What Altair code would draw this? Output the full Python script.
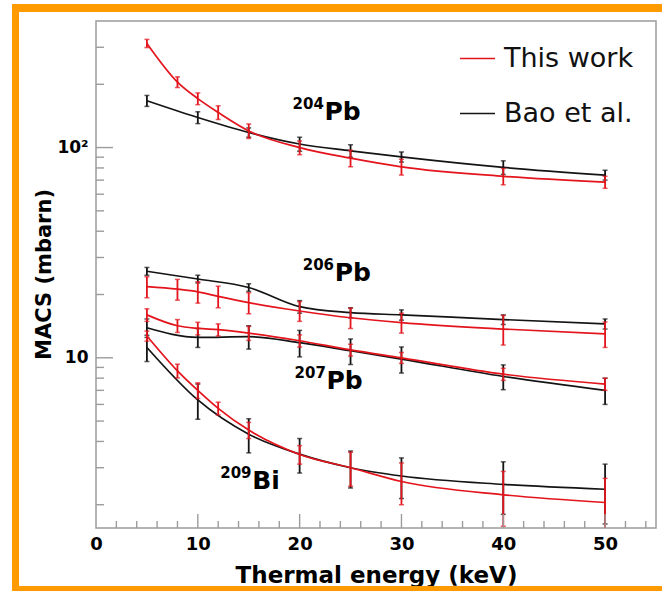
import altair as alt
import pandas as pd

# ---------------- data ----------------
ENERGY_THIS = [5, 8, 10, 12, 15, 20, 25, 30, 40, 50]
ENERGY_BAO = [5, 10, 15, 20, 25, 30, 40, 50]

PB204_THIS = [313, 205, 171, 147, 120, 100, 89, 81, 73, 68.5]
PB204_THIS_ERR = [14, 12, 11, 11, 9.5, 7.5, 8, 7, 6.5, 4.5]
PB204_BAO = [167, 139, 118, 104, 96.5, 90.3, 80.5, 74]
PB204_BAO_ERR = [10, 9, 6, 8, 6.5, 5, 6, 4]

PB206_THIS = [21.8, 21.2, 20.6, 19.6, 18.3, 16.7, 15.5, 14.7, 13.7, 13.0]
PB206_THIS_ERR = [2.5, 2.4, 2.4, 2.3, 2.1, 1.8, 1.7, 1.6, 2.2, 1.8]
PB206_BAO = [25.8, 23.7, 21.6, 17.5, 16.4, 16.0, 15.2, 14.5]
PB206_BAO_ERR = [1.1, 1.0, 0.9, 1.2, 0.9, 0.9, 0.8, 0.8]

PB207_THIS = [16.0, 14.2, 13.8, 13.6, 13.1, 12.05, 10.9, 10.0, 8.36, 7.5]
PB207_THIS_ERR = [1.1, 1.0, 0.95, 0.9, 1.0, 0.8, 0.7, 0.6, 0.55, 0.5]
PB207_BAO = [13.9, 12.5, 12.6, 11.8, 10.8, 9.86, 8.15, 7.0]
PB207_BAO_ERR = [1.4, 1.3, 1.6, 1.7, 1.5, 1.4, 1.1, 1.0]

BI209_THIS = [12.7, 8.67, 7.0, 5.75, 4.53, 3.47, 3.0, 2.58, 2.23, 2.05]
BI209_THIS_ERR = [0.7, 0.65, 0.6, 0.4, 0.4, 0.35, 0.55, 0.58, 0.65, 0.62]
BI209_BAO = [11.2, 6.3, 4.33, 3.48, 3.0, 2.74, 2.50, 2.37]
BI209_BAO_ERR = [1.6, 1.2, 0.8, 0.65, 0.6, 0.6, 0.7, 0.75]

SOURCES = ["This work", "Bao et al."]

# isotope labels (mass number superscript + element), anchored in data units
LABEL_MASS = ["204", "206", "207", "209"]
LABEL_ELEM = ["Pb", "Pb", "Pb", "Bi"]
LABEL_E = [19.3, 20.3, 19.5, 12.2]
LABEL_MACS = [153, 26.2, 8.03, 2.68]

# axis tick positions
X_LABELS = [0, 10, 20, 30, 40, 50]
X_MAJOR = [10, 20, 30, 40, 50]
X_MINOR = [2, 4, 6, 8, 12, 14, 16, 18, 22, 24, 26, 28, 32, 34, 36, 38,
           42, 44, 46, 48, 52, 54]
Y_LABELS = [10, 100]
Y_MINOR = [2, 3, 4, 5, 6, 7, 8, 9, 20, 30, 40, 50, 60, 70, 80, 90, 200, 300]

# ---------------- styles ----------------
FONT = "DejaVu Sans"
RED = "#e3141c"
BLACK = "#141414"
GRAY = "#9c9c9c"
ORANGE = "#ff9a00"

rows = []
def add(iso, src, xs, ys, es):
    for x, y, e in zip(xs, ys, es):
        rows.append({"isotope": iso, "source": src, "energy": x, "macs": y,
                     "lo": y - e, "hi": y + e})

add("204Pb", "This work", ENERGY_THIS, PB204_THIS, PB204_THIS_ERR)
add("206Pb", "This work", ENERGY_THIS, PB206_THIS, PB206_THIS_ERR)
add("207Pb", "This work", ENERGY_THIS, PB207_THIS, PB207_THIS_ERR)
add("209Bi", "This work", ENERGY_THIS, BI209_THIS, BI209_THIS_ERR)
add("204Pb", "Bao et al.", ENERGY_BAO, PB204_BAO, PB204_BAO_ERR)
add("206Pb", "Bao et al.", ENERGY_BAO, PB206_BAO, PB206_BAO_ERR)
add("207Pb", "Bao et al.", ENERGY_BAO, PB207_BAO, PB207_BAO_ERR)
add("209Bi", "Bao et al.", ENERGY_BAO, BI209_BAO, BI209_BAO_ERR)
df = pd.DataFrame(rows)
df_this = df[df.source == "This work"]
df_bao = df[df.source == "Bao et al."]

labels = pd.DataFrame({"mass": LABEL_MASS, "elem": LABEL_ELEM,
                       "e": LABEL_E, "m": LABEL_MACS})

xs = alt.Scale(domain=[0, 55], nice=False, zero=False)
ys = alt.Scale(type="log", domain=[1.55, 400], nice=False)
cs = alt.Scale(domain=SOURCES, range=[RED, BLACK])

x_axis = alt.Axis(values=X_LABELS, ticks=False, tickSize=0, domain=False, grid=False,
                  labelFont=FONT, labelFontWeight="bold", labelFontSize=18,
                  labelColor="black", labelPadding=7, labelFlush=False,
                  title="Thermal energy (keV)", titleFont=FONT,
                  titleFontWeight="bold", titleFontSize=23, titleColor="black",
                  titleX=280, titleY=54, titleBaseline="alphabetic",
                  titleAlign="center", titleAnchor="middle")
y_axis = alt.Axis(values=Y_LABELS, ticks=False, tickSize=0, domain=False, grid=False,
                  labelExpr="datum.value == 100 ? '10²' : (datum.value == 10 ? '10' : '')",
                  labelFont=FONT, labelFontWeight="bold", labelFontSize=17,
                  labelColor="black", labelPadding=8, labelFlush=False,
                  title="MACS (mbarn)", titleFont=FONT, titleFontWeight="bold",
                  titleFontSize=21, titleColor="black", titleAngle=270,
                  titleX=-52, titleY=253, titleAlign="center",
                  titleBaseline="middle", titleAnchor="middle")

legend = alt.Legend(title=None, orient="none", legendX=363, legendY=19,
                    symbolType="stroke", symbolSize=1225, symbolStrokeWidth=1.6,
                    labelFont=FONT, labelFontSize=27, labelColor="#111111",
                    labelOffset=8, rowPadding=23, direction="vertical")


def XE(field):
    return alt.X(field, scale=xs, axis=x_axis)


def YE(field):
    return alt.Y(field, scale=ys, axis=y_axis)


def series_layers(d, colour):
    lines = alt.Chart(d).mark_line(interpolate="monotone", strokeWidth=1.7,
                                   clip=True).encode(
        x=XE("energy:Q"), y=YE("macs:Q"),
        color=alt.Color("source:N", scale=cs, legend=legend),
        detail="isotope:N")
    bars = alt.Chart(d).mark_rule(strokeWidth=1.8, color=colour, clip=True).encode(
        x=XE("energy:Q"), y=YE("lo:Q"), y2="hi:Q")
    caps = alt.Chart(d).transform_fold(["lo", "hi"], as_=["end", "yv"]).mark_tick(
        orient="horizontal", size=5, thickness=1.5, color=colour, clip=True).encode(
        x=XE("energy:Q"), y=YE("yv:Q"))
    return [lines, bars, caps]


one = pd.DataFrame({"d": [0]})

def band(x1, x2, y1, y2):
    return alt.Chart(one).mark_rect(color=ORANGE).encode(
        x=alt.value(x1), x2=alt.value(x2), y=alt.value(y1), y2=alt.value(y2))

bands = [band(-84, -77, -17, 570), band(-84, 566, -17, -9), band(-84, 566, 565, 570)]

tick_y_minor = alt.Chart(pd.DataFrame({"v": Y_MINOR})).mark_rule(
    color=GRAY, strokeWidth=1.4).encode(
    y=YE("v:Q"), x=alt.value(0), x2=alt.value(8))
tick_y_major = alt.Chart(pd.DataFrame({"v": Y_LABELS})).mark_rule(
    color=GRAY, strokeWidth=1.4).encode(
    y=YE("v:Q"), x=alt.value(0), x2=alt.value(17))
tick_x_minor = alt.Chart(pd.DataFrame({"v": X_MINOR})).mark_rule(
    color=GRAY, strokeWidth=1.4).encode(
    x=XE("v:Q"), y=alt.value(507), y2=alt.value(500))
tick_x_major = alt.Chart(pd.DataFrame({"v": X_MAJOR})).mark_rule(
    color=GRAY, strokeWidth=1.4).encode(
    x=XE("v:Q"), y=alt.value(507), y2=alt.value(493))

mass_text = alt.Chart(labels).mark_text(
    align="left", baseline="alphabetic", font=FONT, fontWeight="bold",
    fontSize=15, color="black").encode(
    x=XE("e:Q"), y=YE("m:Q"), text="mass:N")
elem_text = alt.Chart(labels).mark_text(
    align="left", baseline="alphabetic", font=FONT, fontWeight="bold",
    fontSize=25, dx=32, dy=11, color="black").encode(
    x=XE("e:Q"), y=YE("m:Q"), text="elem:N")

chart = alt.layer(
    *series_layers(df_bao, BLACK),
    *series_layers(df_this, RED),
    tick_y_minor, tick_y_major, tick_x_minor, tick_x_major,
    mass_text, elem_text,
    *bands,
).properties(
    width=560, height=507,
    padding={"left": 96, "top": 21, "right": 6, "bottom": 63},
    autosize=alt.AutoSizeParams(type="none"),
    background="white",
).configure_view(stroke=GRAY, strokeWidth=1.5)

chart.save("out.html", embed_options={"renderer": "svg", "actions": False})
